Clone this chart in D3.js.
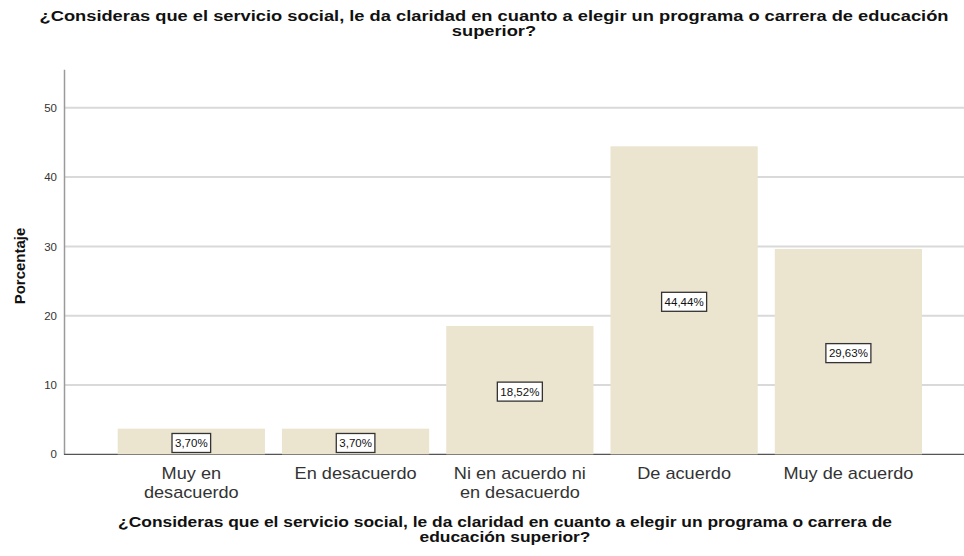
<!DOCTYPE html>
<html><head><meta charset="utf-8">
<script src="https://cdn.jsdelivr.net/npm/d3@7/dist/d3.min.js"></script>
<style>body{margin:0;background:#fff;} svg{display:block;font-family:"Liberation Sans",Arial,sans-serif;}</style>
</head><body>
<script>
const categories = [["Muy en","desacuerdo"],["En desacuerdo"],["Ni en acuerdo ni","en desacuerdo"],["De acuerdo"],["Muy de acuerdo"]];
const values = [3.70, 3.70, 18.52, 44.44, 29.63];
const valueLabels = ["3,70%","3,70%","18,52%","44,44%","29,63%"];
const yTicks = [0,10,20,30,40,50];
const titleLines = ["¿Consideras que el servicio social, le da claridad en cuanto a elegir un programa o carrera de educación","superior?"];
const xTitleLines = ["¿Consideras que el servicio social, le da claridad en cuanto a elegir un programa o carrera de","educación superior?"];
const yTitle = "Porcentaje";

const W=964,H=556;
const svg=d3.select("body").append("svg").attr("width",W).attr("height",H);
const x0=64, y0=454.3;
const y=d3.scaleLinear().domain([0,55.55]).range([y0,69.3]);
const x=d3.scaleBand().domain(d3.range(values.length)).range([117.7,922]).paddingInner(17/164).paddingOuter(0);

// gridlines
svg.append("g").selectAll("line").data(yTicks.filter(d=>d>0)).join("line")
  .attr("x1",x0).attr("x2",W).attr("y1",d=>y(d)).attr("y2",d=>y(d))
  .attr("stroke","#d9d9d9").attr("stroke-width",2);

// y axis
const ya=svg.append("g").attr("transform",`translate(${x0},0)`)
  .call(d3.axisLeft(y).tickValues(yTicks).tickSize(0).tickPadding(7).tickFormat(d3.format("d")));
ya.select(".domain").attr("stroke","#9a9a9a").attr("stroke-width",1.5);
ya.selectAll("text").attr("font-size",11.5).attr("fill","#333").attr("font-family","Liberation Sans, Arial, sans-serif");

// baseline
svg.append("line").attr("x1",x0).attr("x2",W).attr("y1",y0).attr("y2",y0).attr("stroke","#555").attr("stroke-width",1.3);

// bars
svg.append("g").selectAll("rect").data(values).join("rect")
  .attr("x",(d,i)=>x(i)).attr("width",x.bandwidth())
  .attr("y",d=>y(d)).attr("height",d=>y0-y(d)).attr("fill","#ebe4cf");

// value labels
const lg=svg.append("g").selectAll("g").data(values).join("g")
  .attr("transform",(d,i)=>`translate(${x(i)+x.bandwidth()/2},${(y(d)+y0)/2+1.5})`);
lg.append("text").text((d,i)=>valueLabels[i]).attr("text-anchor","middle").attr("dy","0.35em")
  .attr("font-size",11.5).attr("fill","#111");
lg.each(function(){
  const g=d3.select(this); const t=g.select("text").node().getBBox();
  g.insert("rect","text").attr("x",t.x-3).attr("y",-9.5).attr("width",t.width+6).attr("height",19)
    .attr("fill","#fff").attr("stroke","#333").attr("stroke-width",1.3);
});

// category labels
const cl=svg.append("g").selectAll("text").data(categories).join("text")
  .attr("transform",(d,i)=>`translate(${x(i)+x.bandwidth()/2},479) scale(1.08,1)`).attr("text-anchor","middle")
  .attr("font-size",16.8).attr("fill","#333");
cl.selectAll("tspan").data(d=>d).join("tspan").attr("x",0)
  .attr("dy",(d,i)=>i?19:0).text(d=>d);

// title
svg.append("text").attr("transform","translate(494,20.5) scale(1.18,1)").attr("text-anchor","middle").attr("font-weight","bold").attr("font-size",15.5).attr("fill","#111")
  .selectAll("tspan").data(titleLines).join("tspan").attr("x",0).attr("dy",(d,i)=>i?16:0).text(d=>d);
// x title
svg.append("text").attr("transform","translate(505,526.5) scale(1.2,1)").attr("text-anchor","middle").attr("font-weight","bold").attr("font-size",14.5).attr("fill","#111")
  .selectAll("tspan").data(xTitleLines).join("tspan").attr("x",0).attr("dy",(d,i)=>i?16:0).text(d=>d);
// y title
svg.append("text").attr("transform","translate(25,266) rotate(-90)").attr("text-anchor","middle")
  .attr("font-weight","bold").attr("font-size",15).attr("fill","#111").text(yTitle);
</script>
</body></html>
